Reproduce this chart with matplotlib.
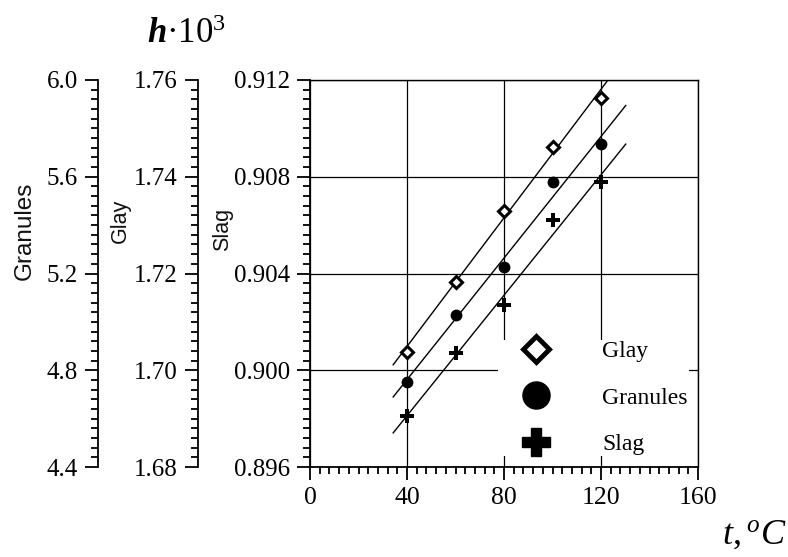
import numpy as np
import matplotlib
matplotlib.use('Agg')
import matplotlib.pyplot as plt
from matplotlib.lines import Line2D
from matplotlib.ticker import MultipleLocator, FormatStrFormatter

plt.rcParams['font.family'] = ['Liberation Serif', 'DejaVu Serif']
plt.rcParams['mathtext.fontset'] = 'custom'
plt.rcParams['mathtext.rm'] = 'Liberation Serif'
plt.rcParams['mathtext.it'] = 'Liberation Serif:italic'
plt.rcParams['mathtext.bf'] = 'Liberation Serif:bold'
plt.rcParams['mathtext.bfit'] = 'Liberation Serif:italic:bold'

# data
t = [40, 60, 80, 100, 120]
glay = [1.7038, 1.7183, 1.7329, 1.7462, 1.7563]
granules = [4.753, 5.028, 5.226, 5.577, 5.735]
slag = [0.8981, 0.9007, 0.9027, 0.9062, 0.9078]
fit_range = [34.3, 130.2]

fig = plt.figure(figsize=(7.88, 5.57), dpi=100)
ax = fig.add_axes([310 / 788, 1 - 467 / 557, 388 / 788, 387 / 557])
ax_glay = ax.twinx()
ax_gran = ax.twinx()

def style_ticks(a, major, minor, fmt):
    a.yaxis.set_major_locator(MultipleLocator(major))
    a.yaxis.set_minor_locator(MultipleLocator(minor))
    a.yaxis.set_major_formatter(FormatStrFormatter(fmt))
    a.tick_params(axis='y', which='major', direction='out', length=9.5, width=1.3,
                  labelsize=18, pad=5)
    a.tick_params(axis='y', which='minor', direction='out', length=5, width=1.3)

for a, off in [(ax_glay, -112 / 388), (ax_gran, -212 / 388)]:
    a.yaxis.set_ticks_position('left')
    a.yaxis.set_label_position('left')
    a.spines['left'].set_position(('axes', off))
    a.spines['left'].set_visible(True)
    a.spines['left'].set_linewidth(1.3)
    for s in ['right', 'top', 'bottom']:
        a.spines[s].set_visible(False)

ax.set_xlim(0, 160)
ax.set_ylim(0.896, 0.912)
ax_glay.set_ylim(1.68, 1.76)
ax_gran.set_ylim(4.4, 6.0)

style_ticks(ax, 0.004, 0.0004, '%.3f')
style_ticks(ax_glay, 0.02, 0.002, '%.2f')
style_ticks(ax_gran, 0.4, 0.04, '%.1f')

ax.xaxis.set_major_locator(MultipleLocator(40))
ax.xaxis.set_minor_locator(MultipleLocator(4))
ax.tick_params(axis='x', which='major', direction='out', length=9.5, width=1.3,
               labelsize=18.5, pad=5)
ax.tick_params(axis='x', which='minor', direction='out', length=5, width=1.3)
for s in ax.spines.values():
    s.set_linewidth(1.0)
ax.spines['left'].set_linewidth(1.3)
ax.spines['bottom'].set_linewidth(1.3)
ax.grid(True, which='major', color='black', linewidth=0.9)
ax.set_axisbelow(True)

# linear fits drawn over a wider range
tt = np.array(fit_range)
series = [(ax_glay, glay, 'D', 6, 'white', 2.2),
          (ax_gran, granules, 'o', 8.5, 'black', 0),
          (ax, slag, 'P', 9.5, 'black', 0)]
for a, vals, m, ms, fc, mew in series:
    k, b = np.polyfit(t, vals, 1)
    a.plot(tt, k * tt + b, color='black', linewidth=1.0, zorder=2)
    a.plot(t, vals, linestyle='none', marker=m, markersize=ms, markerfacecolor=fc,
           markeredgecolor='black', markeredgewidth=mew, zorder=3)

# axis names
ax.text(-0.7345, 0.61, 'Granules', transform=ax.transAxes, rotation=90, ha='center',
        va='center', fontsize=17.5, family='Liberation Sans', color='#111111')
ax.text(-0.4897, 0.636, 'Glay', transform=ax.transAxes, rotation=90, ha='center',
        va='center', fontsize=15.5, family='Liberation Sans', color='#111111')
ax.text(-0.2242, 0.615, 'Slag', transform=ax.transAxes, rotation=90, ha='center',
        va='center', fontsize=15.5, family='Liberation Sans', color='#111111')

fig.text(147 / 788, 1 - 43 / 557, r'$\mathbfit{h}\mathrm{·}10^{3}$', fontsize=25,
         ha='left', va='baseline')
fig.text(722 / 788, 1 - 544 / 557, r'$t,^{o}C$', fontsize=26, ha='left', va='baseline')

handles = [
    Line2D([], [], linestyle='none', marker='D', markersize=13, markerfacecolor='white',
           markeredgecolor='black', markeredgewidth=3.5),
    Line2D([], [], linestyle='none', marker='o', markersize=19.5, color='black'),
    Line2D([], [], linestyle='none', marker='P', markersize=20, color='black'),
]
leg = ax_gran.legend(handles, ['Glay', 'Granules', 'Slag'], loc='lower right',
                     bbox_to_anchor=(0.976, 0.028), bbox_transform=ax.transAxes,
                     fontsize=17, frameon=True, facecolor='white', edgecolor='none',
                     framealpha=1, fancybox=False, borderpad=0.05, handlelength=3.1,
                     handletextpad=1.25, labelspacing=1.05, borderaxespad=0)
leg.set_zorder(10)

fig.savefig('out.png', dpi=100)
